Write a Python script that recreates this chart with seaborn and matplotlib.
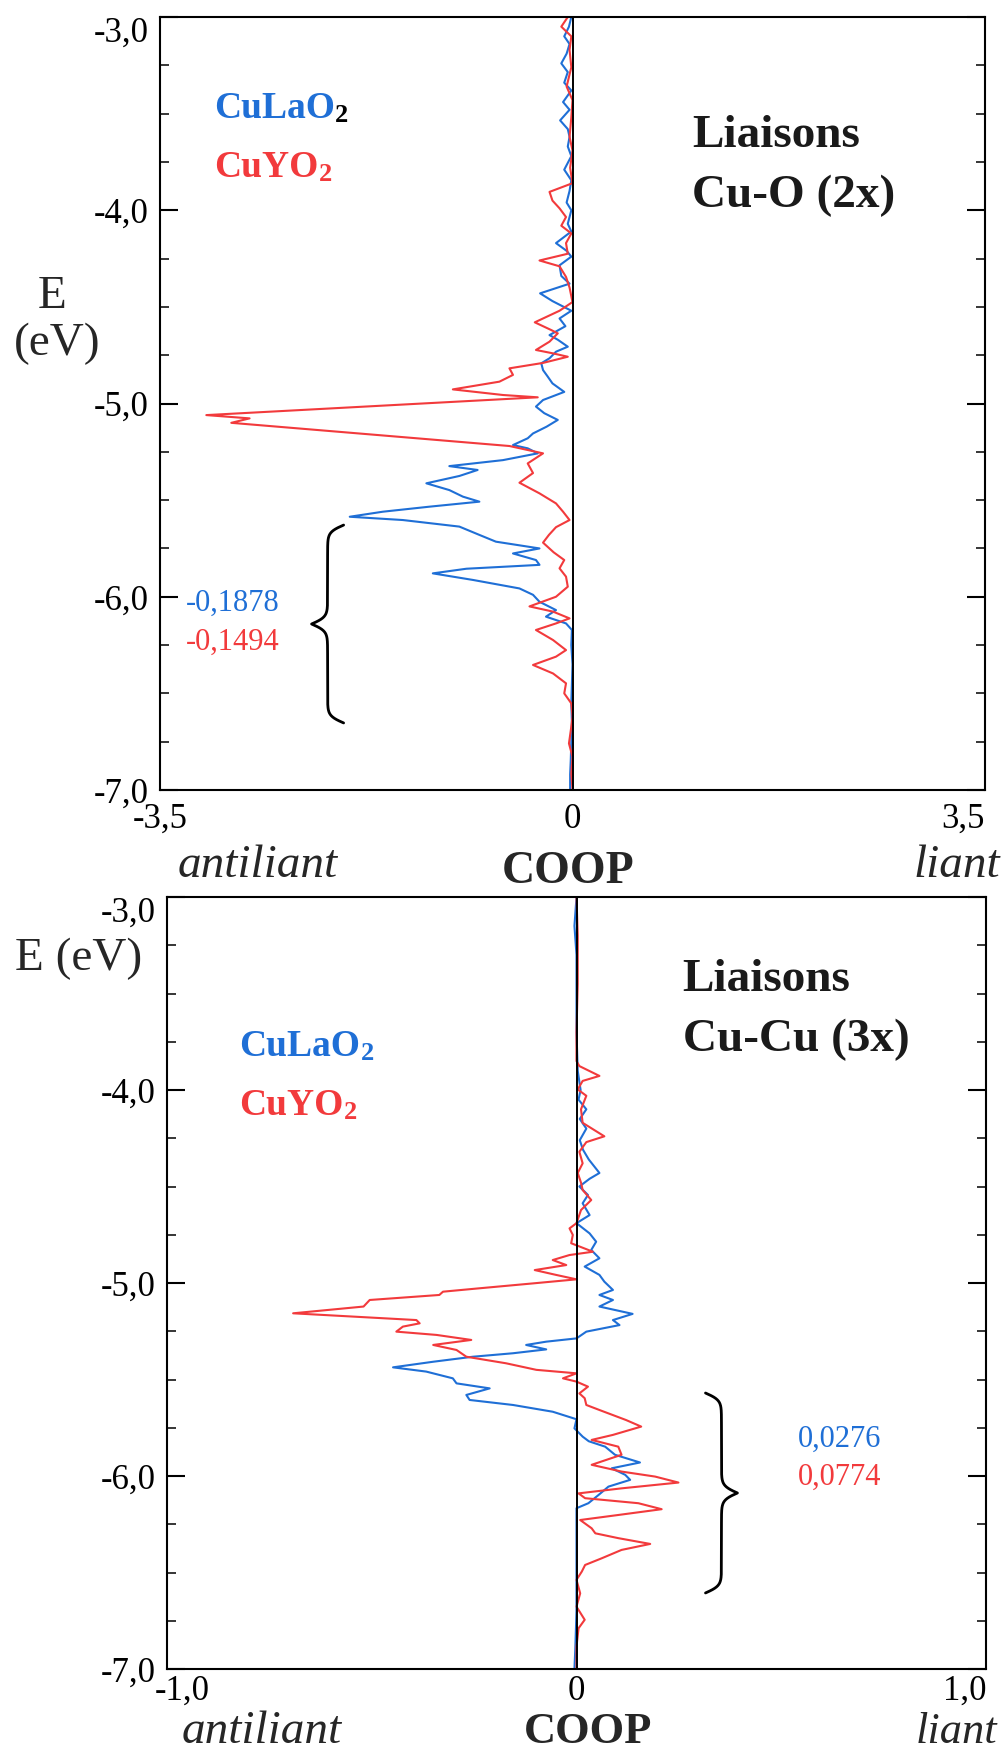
import numpy as np
import pandas as pd
import matplotlib
matplotlib.use("Agg")
import matplotlib.pyplot as plt
from matplotlib.transforms import ScaledTranslation
import seaborn as sns

sns.set_theme(style="ticks")
plt.rcParams["font.family"] = ["Liberation Serif", "DejaVu Serif"]

################################################################################
### data : COOP curves (E in eV, COOP)
################################################################################
# Cu-O, CuLaO2
e_cuo_la = [-3.00, -3.05, -3.10, -3.14, -3.19, -3.24, -3.285, -3.34, -3.38, -3.44,
            -3.48, -3.535, -3.58, -3.62, -3.67, -3.72, -3.79, -3.845, -3.90, -3.96,
            -4.00, -4.07, -4.11, -4.17, -4.21, -4.24, -4.285, -4.34, -4.38, -4.43,
            -4.47, -4.52, -4.56, -4.60, -4.646, -4.67, -4.706, -4.732, -4.766, -4.792,
            -4.827, -4.861, -4.896, -4.94, -4.982, -5.016, -5.05, -5.085, -5.12, -5.155,
            -5.18, -5.215, -5.232, -5.258, -5.293, -5.324, -5.344, -5.375, -5.413, -5.448,
            -5.482, -5.508, -5.534, -5.56, -5.586, -5.603, -5.637, -5.68, -5.715, -5.75,
            -5.776, -5.81, -5.835, -5.855, -5.879, -5.913, -5.957, -5.99, -6.026, -6.069,
            -6.103, -6.138, -6.172, -6.25, -6.35, -6.45, -6.55, -6.65, -6.75, -6.85,
            -6.92, -7.00]
c_cuo_la = [-0.01, -0.03, -0.07, -0.025, -0.05, -0.095, -0.04, -0.07, -0.01, -0.08,
            -0.025, -0.105, -0.04, -0.025, -0.04, -0.01, -0.07, -0.01, -0.025, -0.05,
            -0.01, -0.04, -0.01, -0.14, -0.05, -0.01, -0.11, -0.095, -0.025, -0.275,
            -0.17, -0.01, -0.11, -0.06, -0.195, -0.125, -0.04, -0.14, -0.195, -0.265,
            -0.25, -0.21, -0.17, -0.07, -0.25, -0.31, -0.24, -0.125, -0.22, -0.335,
            -0.38, -0.505, -0.38, -0.295, -0.59, -1.045, -0.805, -0.96, -1.24, -1.045,
            -0.93, -0.79, -1.215, -1.61, -1.89, -1.44, -0.96, -0.79, -0.65, -0.28,
            -0.505, -0.31, -0.28, -0.9, -1.185, -0.845, -0.45, -0.335, -0.28, -0.14,
            -0.225, -0.055, -0.005, -0.01, 0.0, -0.005, -0.01, -0.005, -0.01, -0.015,
            -0.02, -0.02]

# Cu-O, CuYO2
e_cuo_y = [-3.00, -3.05, -3.10, -3.17, -3.26, -3.36, -3.43, -3.52, -3.62, -3.69,
           -3.78, -3.86, -3.905, -3.95, -3.99, -4.035, -4.08, -4.12, -4.17, -4.225,
           -4.26, -4.29, -4.345, -4.40, -4.475, -4.52, -4.58, -4.62, -4.637, -4.68,
           -4.723, -4.74, -4.758, -4.79, -4.818, -4.852, -4.887, -4.927, -4.956, -4.968,
           -5.06, -5.077, -5.10, -5.22, -5.258, -5.31, -5.36, -5.41, -5.465, -5.517,
           -5.56, -5.603, -5.64, -5.68, -5.72, -5.77, -5.81, -5.853, -5.896, -5.948,
           -6.00, -6.05, -6.077, -6.112, -6.138, -6.172, -6.224, -6.276, -6.31, -6.353,
           -6.397, -6.448, -6.50, -6.552, -6.62, -6.672, -6.759, -6.828, -6.914, -7.00]
c_cuo_y = [-0.04, -0.095, -0.01, -0.025, -0.01, -0.05, 0.0, -0.01, -0.025, 0.0,
           -0.02, 0.0, -0.195, -0.17, -0.11, -0.055, -0.095, -0.01, -0.055, -0.04,
           -0.28, -0.11, -0.055, -0.025, 0.0, -0.11, -0.32, -0.18, -0.125, -0.195,
           -0.31, -0.17, -0.04, -0.25, -0.535, -0.505, -0.62, -1.015, -0.59, -0.295,
           -3.107, -2.74, -2.895, -0.535, -0.25, -0.38, -0.335, -0.45, -0.28, -0.14,
           -0.08, -0.025, -0.14, -0.2, -0.25, -0.16, -0.07, -0.11, -0.055, -0.04,
           -0.14, -0.365, -0.165, -0.025, -0.14, -0.31, -0.165, -0.055, -0.14, -0.335,
           -0.165, -0.055, -0.07, -0.01, 0.0, -0.01, -0.03, 0.0, -0.01, 0.0]

# Cu-Cu, CuLaO2
e_cucu_la = [-3.00, -3.15, -3.30, -3.50, -3.70, -3.90, -4.00, -4.05, -4.10, -4.15,
             -4.20, -4.26, -4.31, -4.36, -4.43, -4.46, -4.50, -4.544, -4.587, -4.648,
             -4.69, -4.743, -4.786, -4.829, -4.872, -4.915, -4.958, -4.993, -5.036, -5.062,
             -5.088, -5.122, -5.16, -5.192, -5.218, -5.252, -5.287, -5.304, -5.321, -5.344,
             -5.364, -5.382, -5.408, -5.437, -5.459, -5.494, -5.52, -5.546, -5.58, -5.606,
             -5.632, -5.667, -5.706, -5.753, -5.796, -5.82, -5.848, -5.89, -5.93, -5.96,
             -5.994, -6.02, -6.055, -6.098, -6.141, -6.167, -6.30, -6.50, -6.70, -6.90,
             -7.00]
c_cucu_la = [0.0, -0.005, 0.0, 0.0, 0.0, 0.003, 0.01, 0.005, 0.024, 0.008,
             0.024, 0.008, 0.016, 0.03, 0.056, 0.032, 0.007, 0.028, 0.015, 0.032,
             0.0, 0.032, 0.048, 0.036, 0.056, 0.02, 0.056, 0.068, 0.089, 0.056,
             0.089, 0.056, 0.137, 0.089, 0.105, 0.024, 0.0, -0.074, -0.123, -0.074,
             -0.155, -0.253, -0.35, -0.448, -0.367, -0.302, -0.293, -0.212, -0.269, -0.261,
             -0.155, -0.058, 0.0, -0.005, 0.015, 0.03, 0.07, 0.094, 0.155, 0.086,
             0.119, 0.131, 0.078, 0.054, 0.029, 0.0, 0.0, 0.0, 0.0, -0.003,
             -0.005]

# Cu-Cu, CuYO2
e_cucu_y = [-3.00, -3.20, -3.45, -3.70, -3.85, -3.876, -3.927, -3.953, -3.997, -4.03,
            -4.10, -4.17, -4.24, -4.27, -4.32, -4.38, -4.43, -4.48, -4.518, -4.57,
            -4.622, -4.69, -4.717, -4.751, -4.794, -4.838, -4.855, -4.881, -4.907, -4.933,
            -4.958, -4.981, -5.002, -5.028, -5.045, -5.062, -5.088, -5.122, -5.157, -5.174,
            -5.192, -5.209, -5.226, -5.252, -5.269, -5.295, -5.321, -5.347, -5.382, -5.416,
            -5.45, -5.468, -5.494, -5.511, -5.537, -5.572, -5.597, -5.632, -5.658, -5.71,
            -5.744, -5.787, -5.813, -5.848, -5.89, -5.942, -5.977, -6.003, -6.034, -6.064,
            -6.09, -6.115, -6.141, -6.172, -6.202, -6.228, -6.271, -6.297, -6.322, -6.352,
            -6.383, -6.426, -6.461, -6.495, -6.538, -6.608, -6.677, -6.745, -6.789, -6.884,
            -7.00]
c_cucu_y = [0.0, 0.003, 0.003, 0.0, 0.0, 0.007, 0.056, 0.015, 0.003, 0.024,
            0.011, 0.015, 0.068, 0.024, 0.007, 0.015, 0.003, 0.011, 0.015, 0.036,
            0.011, 0.0, -0.017, -0.009, -0.013, 0.04, -0.017, -0.058, -0.025, -0.102,
            -0.05, 0.0, -0.106, -0.24, -0.326, -0.335, -0.505, -0.52, -0.692, -0.546,
            -0.391, -0.383, -0.424, -0.44, -0.342, -0.257, -0.35, -0.293, -0.269, -0.172,
            -0.098, 0.0, -0.033, 0.0, 0.028, 0.007, 0.02, 0.024, 0.056, 0.121,
            0.158, 0.089, 0.037, 0.102, 0.11, 0.037, 0.11, 0.192, 0.249, 0.11,
            0.005, 0.021, 0.151, 0.208, 0.102, 0.009, 0.037, 0.046, 0.102, 0.18,
            0.11, 0.062, 0.021, 0.013, 0.0, 0.009, 0.0, 0.02, 0.005, 0.0,
            0.0]

compounds = ["CuLaO2", "CuYO2"]
colours = {"CuLaO2": "#1f6fd6", "CuYO2": "#f23a3c"}

y_major = [-3, -4, -5, -6, -7]
y_labels = ["-3,0", "-4,0", "-5,0", "-6,0", "-7,0"]
x_top = [-3.5, 0, 3.5]
x_top_labels = ["-3,5", "0", "3,5"]
x_bot = [-1.0, 0, 1.0]
x_bot_labels = ["-1,0", "0", "1,0"]

# integrated values written next to the braces
int_cuo = ["-0,1878", "-0,1494"]
int_cucu = ["0,0276", "0,0774"]

################################################################################
### figure
################################################################################
W, H = 1002, 1752
fig = plt.figure(figsize=(W/100, H/100), dpi=100)

def px_rect(l, t, r, b):
    return [l/W, 1-b/H, (r-l)/W, (b-t)/H]

def ftext(x, y, s, **kw):
    fig.text(x/W, 1-y/H, s, **kw)

def compound_label(ax, x, y, base, col, subcol):
    t = ax.text(x, y, base, color=col, fontsize=27, fontweight="bold",
                ha="left", va="baseline")
    ax.annotate("2", xy=(1, 0), xycoords=t, xytext=(0.5, -1),
                textcoords="offset points", color=subcol, fontsize=19,
                fontweight="bold", ha="left", va="bottom")

def brace(ax, x_end, x_tip, y0, y1, beta=28):
    yh = np.linspace(0, 1, 151)
    xh = 1/(1+np.exp(-beta*yh)) + 1/(1+np.exp(-beta*(yh-1)))
    xf = np.concatenate([xh, xh[-2::-1]])
    yy = np.linspace(y0, y1, len(xf))
    ax.plot(x_end + (x_tip-x_end)*(xf-0.5), yy, color="black", lw=2.0,
            solid_capstyle="round")

def panel(ax, frames, xlim, xt, xtl, xpad):
    df = pd.concat(frames, ignore_index=True)
    sns.lineplot(data=df, x="COOP", y="E", hue="compound", hue_order=compounds,
                 palette=colours, sort=False, estimator=None, orient="y",
                 lw=1.5, legend=False, ax=ax)
    ax.axvline(0, color="black", lw=1.4, zorder=3)
    ax.set_xlim(xlim)
    ax.set_ylim(-7, -3)
    ax.set_yticks(y_major)
    ax.set_yticklabels(y_labels)
    ax.set_yticks(np.arange(-7, -2.99, 0.25), minor=True)
    ax.set_xticks(xt)
    ax.set_xticklabels(xtl)
    ax.tick_params(axis="y", which="major", direction="in", length=13, width=1.5,
                   left=True, right=True, labelsize=25, pad=8, colors="black")
    ax.tick_params(axis="y", which="minor", direction="in", length=6.5, width=1.3,
                   left=True, right=True)
    ax.tick_params(axis="x", which="both", length=0, labelsize=25, pad=xpad,
                   colors="black")
    ax.get_yticklabels()[0].set_va("top")
    ax.get_xticklabels()[2].set_ha("right")
    ax.set_xlabel("")
    ax.set_ylabel("")
    for s in ax.spines.values():
        s.set_visible(True)
        s.set_color("black")
        s.set_linewidth(1.5)

# ---- top : Cu-O
ax1 = fig.add_axes(px_rect(160, 17, 985, 790))
panel(ax1, [pd.DataFrame({"E": e_cuo_la, "COOP": c_cuo_la, "compound": "CuLaO2"}),
            pd.DataFrame({"E": e_cuo_y, "COOP": c_cuo_y, "compound": "CuYO2"})],
      (-3.5, 3.5), x_top, x_top_labels, 9)
compound_label(ax1, -3.045, -3.523, "CuLaO", colours["CuLaO2"], "black")
compound_label(ax1, -3.045, -3.828, "CuYO", colours["CuYO2"], colours["CuYO2"])
ax1.text(1.018, -3.673, "Liaisons", fontsize=34, fontweight="bold", color="#1a1a1a")
ax1.text(1.018, -3.983, "Cu-O (2x)", fontsize=34, fontweight="bold", color="#1a1a1a")
brace(ax1, -1.942, -2.214, -5.629, -6.653)
ax1.text(-3.28, -6.032, int_cuo[0], color=colours["CuLaO2"], fontsize=22, va="center")
ax1.text(-3.28, -6.234, int_cuo[1], color=colours["CuYO2"], fontsize=22, va="center")

# ---- bottom : Cu-Cu
ax2 = fig.add_axes(px_rect(167, 897, 986, 1669))
panel(ax2, [pd.DataFrame({"E": e_cucu_la, "COOP": c_cucu_la, "compound": "CuLaO2"}),
            pd.DataFrame({"E": e_cucu_y, "COOP": c_cucu_y, "compound": "CuYO2"})],
      (-1.0, 1.0), x_bot, x_bot_labels, 4)
# the "-1,0" sits a little right of its tick in the scan
lab = ax2.get_xticklabels()[0]
lab.set_transform(lab.get_transform() + ScaledTranslation(0.15, 0, fig.dpi_scale_trans))
compound_label(ax2, -0.824, -3.824, "CuLaO", colours["CuLaO2"], colours["CuLaO2"])
compound_label(ax2, -0.824, -4.13, "CuYO", colours["CuYO2"], colours["CuYO2"])
ax2.text(0.259, -3.487, "Liaisons", fontsize=34, fontweight="bold", color="#1a1a1a")
ax2.text(0.259, -3.798, "Cu-Cu (3x)", fontsize=34, fontweight="bold", color="#1a1a1a")
brace(ax2, 0.315, 0.393, -5.57, -6.606)
ax2.text(0.541, -5.808, int_cucu[0], color=colours["CuLaO2"], fontsize=22, va="center")
ax2.text(0.541, -6.005, int_cucu[1], color=colours["CuYO2"], fontsize=22, va="center")

# ---- axis words
ftext(52, 308, "E", fontsize=34, ha="center", va="baseline")
ftext(57, 355, "(eV)", fontsize=34, ha="center", va="baseline")
ftext(15, 970, "E (eV)", fontsize=34, ha="left", va="baseline")

ftext(178, 877, "antiliant", fontsize=34, style="italic", ha="left", va="baseline")
ftext(568, 883, "COOP", fontsize=33, fontweight="bold", ha="center", va="baseline")
ftext(1000, 877, "liant", fontsize=34, style="italic", ha="right", va="baseline")
ftext(182, 1743, "antiliant", fontsize=34, style="italic", ha="left", va="baseline")
ftext(588, 1743, "COOP", fontsize=32, fontweight="bold", ha="center", va="baseline")
ftext(997, 1743, "liant", fontsize=32, style="italic", ha="right", va="baseline")

fig.savefig("out.png", dpi=100, facecolor="white")
